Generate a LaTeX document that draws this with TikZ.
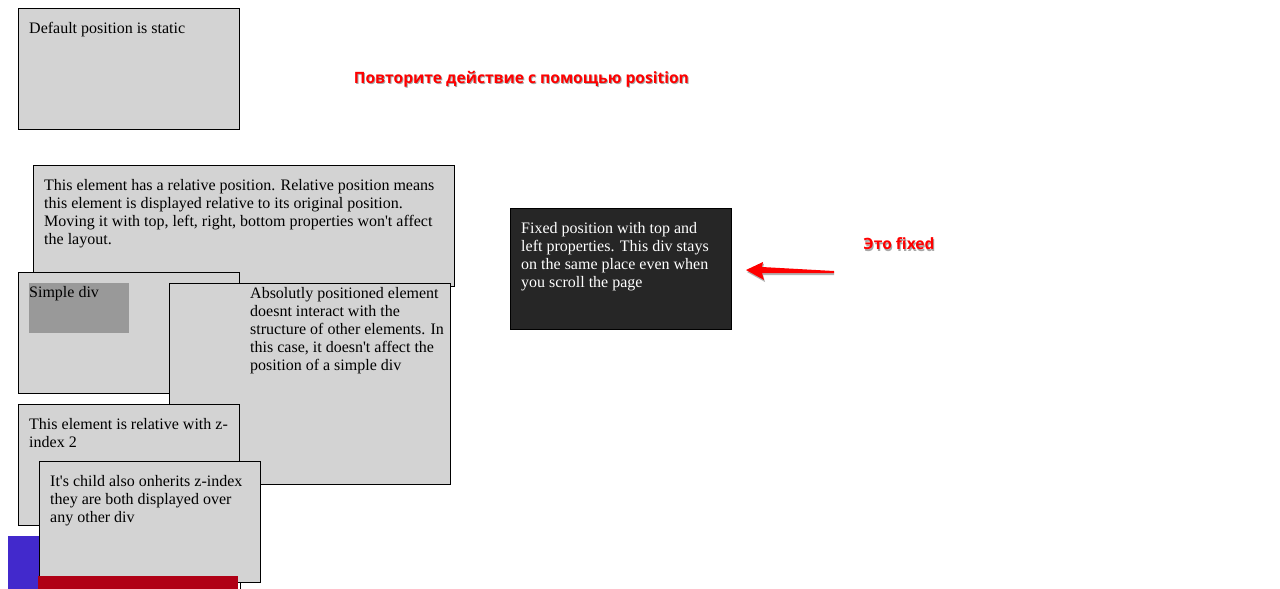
\documentclass[tikz,border=0pt]{standalone}
\usepackage{fontspec}
\setmainfont{Liberation Serif}
\newfontfamily\labfont{Open Sans}
\definecolor{boxgray}{HTML}{D3D3D3}
\definecolor{innergray}{HTML}{999999}
\definecolor{darkbox}{HTML}{262626}
\definecolor{blueblk}{HTML}{4229CC}
\definecolor{redblk}{HTML}{B00016}
\definecolor{labred}{HTML}{FF0000}
\newcommand{\aps}{\textquotesingle}
\tikzset{
  divbox/.style={draw=black, line width=1pt, fill=boxgray, anchor=north west, inner sep=0pt, outer sep=0pt},
  darkdiv/.style={divbox, fill=darkbox},
  divtext/.style={anchor=north west, inner sep=0pt, align=left, font=\fontsize{16}{18}\selectfont},
  wtext/.style={divtext, text=white},
  redlab/.style={inner sep=0pt, font=\labfont\bfseries\fontsize{15.6}{18}\selectfont, text=labred},
  shadowlab/.style={inner sep=0pt, font=\labfont\bfseries\fontsize{15.6}{18}\selectfont, text=black!35},
}
\begin{document}
\begin{tikzpicture}[x=1pt,y=-1pt]
\useasboundingbox[fill=white] (0,0) rectangle (1280,589);
% static
\node[divbox, minimum width=221pt, minimum height=121pt] (static) at (18.5,8.5) {};
\node[divtext] (statict) at (29,22) {Default position is static};
% relative
\node[divbox, minimum width=421pt, minimum height=121pt] (rel) at (33.5,165.5) {};
\node[divtext] (relt) at (44,179) {This element has a relative position. Relative position means\\this element is displayed relative to its original position.\\Moving it with top, left, right, bottom properties won\aps t affect\\the layout.};
% simple div container
\node[divbox, minimum width=221pt, minimum height=121pt] (simple) at (18.5,272.5) {};
\node[anchor=north west, fill=innergray, inner sep=0pt, minimum width=100pt, minimum height=50pt] (inner) at (29,283) {};
\node[divtext] (simplet) at (29,286) {Simple div};
% absolute
\node[divbox, minimum width=281pt, minimum height=201pt] (abs) at (169.5,283.5) {};
\node[divtext] (abst) at (250,287) {Absolutly positioned element\\doesnt interact with the\\structure of other elements. In\\this case, it doesn\aps t affect the\\position of a simple div};
% z-index
\node[divbox, minimum width=221pt, minimum height=121pt] (zbox) at (18.5,404.5) {};
\node[divtext] (zt) at (29,418) {This element is relative with z-\\index 2};
% extra border line and blue block
\coordinate (lt) at (240,582);
\coordinate (lb) at (240,589);
\draw[line width=1pt] (lt) -- (lb);
\node[anchor=north west, fill=blueblk, inner sep=0pt, minimum width=80pt, minimum height=53pt] (blue) at (8,536) {};
% child
\node[divbox, minimum width=221pt, minimum height=121pt] (child) at (39.5,461.5) {};
\node[divtext] (childt) at (50,475) {It\aps s child also onherits z-index\\they are both displayed over\\any other div};
\node[anchor=north west, fill=redblk, inner sep=0pt, minimum width=200pt, minimum height=14pt] (redbar) at (38,576) {};
% fixed
\node[darkdiv, minimum width=221pt, minimum height=121pt] (fixed) at (510.5,208.5) {};
\node[wtext] (fixedt) at (521,222) {Fixed position with top and\\left properties. This div stays\\on the same place even when\\you scroll the page};
% labels
\node[shadowlab] at (522.5,80.5) {Повторите действие с помощью position};
\node[redlab] (lab1) at (521.5,79) {Повторите действие с помощью position};
\node[shadowlab] at (900,245.5) {Это fixed};
\node[redlab] (lab2) at (899,244) {Это fixed};
% arrow
\coordinate (tail) at (834,272);
\coordinate (tip) at (746,270);
\fill[black!30] (747,272) -- (764,263.5) -- (763,268.5) -- (834,272.5) -- (834,275) -- (763,275) -- (765,282) -- cycle;
\fill[labred] (tip) -- (763,262) -- (762,267) -- (834,271) -- (834,273) -- (762,273) -- (764,280) -- cycle;
\end{tikzpicture}
\end{document}
